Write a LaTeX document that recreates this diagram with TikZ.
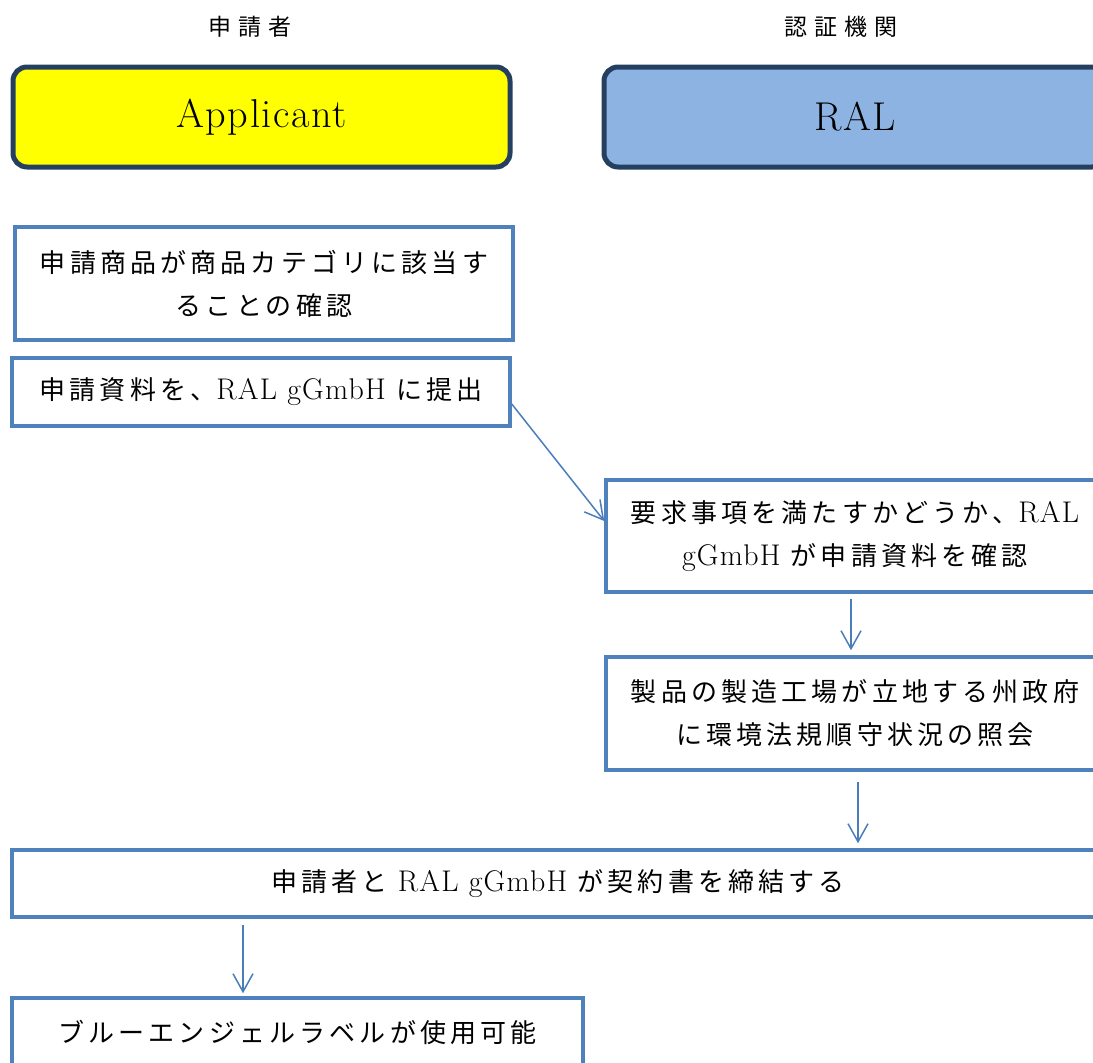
\documentclass[tikz,border=0pt]{standalone}
\usepackage{fontspec}
\setmainfont{Latin Modern Roman}[LetterSpace=4, Scale=1.15]
\newfontfamily\jp{Noto Sans CJK JP}[LetterSpace=16]
\newfontfamily\jpcab{Noto Sans CJK JP}[LetterSpace=30]
\usetikzlibrary{arrows.meta}
\definecolor{bordepaso}{HTML}{4F81BD}
\definecolor{colorflecha}{HTML}{4A7EBB}
\definecolor{bordecab}{HTML}{243F60}
\definecolor{azulral}{HTML}{8DB3E2}
\definecolor{amarillo}{RGB}{255,255,0}

\begin{document}
\begin{tikzpicture}[x=1pt, y=-1pt,
    every node/.style={inner sep=0pt, align=center, font=\fontsize{26}{43}\selectfont},
    cabecera/.style={draw=bordecab, line width=5pt, rounded corners=14pt, minimum height=100pt, font=\fontsize{35}{42}\selectfont},
    paso/.style={draw=bordepaso, line width=3.5pt, fill=white},
    flecha/.style={colorflecha, line width=1.5pt, -{Straight Barb[length=18pt, width=20pt]}}]
  \useasboundingbox (0,0) rectangle (1093,1063);
  \clip (0,0) rectangle (1093,1063);

  % Cabeceras
  \node[font=\fontsize{23}{26}\selectfont] (tsol) at (250,27) {\jpcab 申請者};
  \node[font=\fontsize{23}{26}\selectfont] (tcert) at (841,27) {\jpcab 認証機関};
  \node[cabecera, fill=amarillo, minimum width=497pt] (applicant) at (261.5,117) {\raisebox{-4pt}{Applicant}};
  \node[cabecera, fill=azulral, minimum width=502pt] (ral) at (855,117) {\raisebox{-3pt}{RAL}};

  % Pasos
  \node[paso, minimum width=498pt, minimum height=113pt] (b1) at (264,283.5)
    {\jp 申請商品が商品カテゴリに該当す\\\jp ることの確認};
  \node[paso, minimum width=498pt, minimum height=68pt] (b2) at (261,392)
    {{\jp 申請資料を、}RAL gGmbH {\jp に提出}};
  \node[paso, minimum width=498pt, minimum height=112pt] (b3) at (855,536)
    {{\jp 要求事項を満たすかどうか、}RAL\\gGmbH {\jp が申請資料を確認}};
  \node[paso, minimum width=498pt, minimum height=113pt] (b4) at (855,713.5)
    {\jp 製品の製造工場が立地する州政府\\\jp に環境法規順守状況の照会};
  \node[paso, minimum width=1092pt, minimum height=67pt] (b5) at (558,883.5)
    {{\jp 申請者と} RAL gGmbH {\jp が契約書を締結する}};
  \node[paso, minimum width=571pt, minimum height=68pt] (b6) at (297.5,1032)
    {\jp ブルーエンジェルラベルが使用可能};

  % Flechas
  \draw[flecha] ([yshift=-12pt]b2.east) -- ([yshift=15pt]b3.west);
  \draw[flecha] ([xshift=-4pt,yshift=-5pt]b3.south) -- ([xshift=-4pt,yshift=5pt]b4.north);
  \draw[flecha, shorten <=10pt, shorten >=5pt] ([xshift=3pt]b4.south) -- ([xshift=3pt]b4.south |- b5.north);
  \draw[flecha, shorten <=6pt, shorten >=3pt] ([xshift=-54.5pt]b6.north |- b5.south) -- ([xshift=-54.5pt]b6.north);
\end{tikzpicture}
\end{document}
